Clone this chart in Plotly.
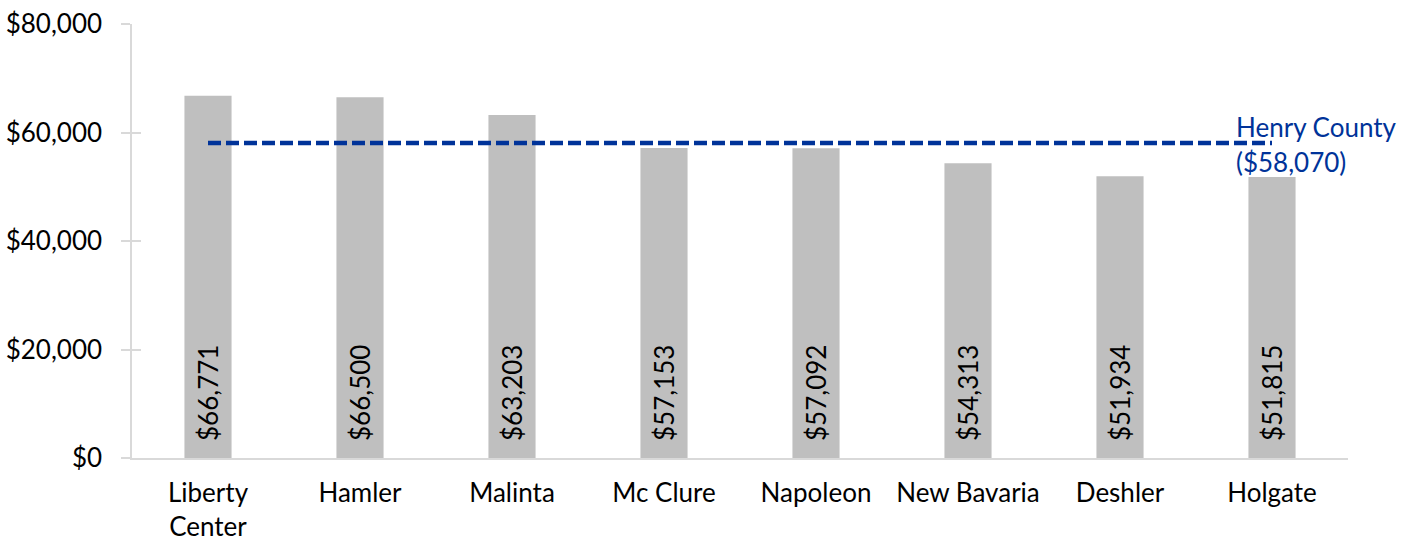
import plotly.graph_objects as go

# Median household income by place, Henry County
places = ["Liberty<br>Center", "Hamler", "Malinta", "Mc Clure", "Napoleon",
          "New Bavaria", "Deshler", "Holgate"]
income = [66771, 66500, 63203, 57153, 57092, 54313, 51934, 51815]
county_name = "Henry County"
county_income = 58070
y_ticks = [0, 20000, 40000, 60000, 80000]

FONT = "Lato, Calibri, sans-serif"
BAR_COLOR = "#BFBFBF"
LINE_COLOR = "#003399"
AXIS_COLOR = "#D9D9D9"
FS = 26

fig = go.Figure()

fig.add_trace(go.Bar(
    x=places, y=income,
    marker=dict(color=BAR_COLOR, line=dict(width=0)),
    hoverinfo="skip",
))

fig.add_trace(go.Scatter(
    x=places, y=[county_income] * len(places),
    mode="lines",
    line=dict(color=LINE_COLOR, width=4.5, dash="13px,5px"),
    hoverinfo="skip",
))

# value labels written vertically at the foot of each bar
for p, v in zip(places, income):
    fig.add_annotation(
        x=p, y=0, xref="x", yref="y",
        text=f"${v:,}", textangle=-90,
        showarrow=False, yanchor="bottom", xanchor="center",
        yshift=15, font=dict(family=FONT, size=FS, color="#000000"),
    )

# county reference label
fig.add_annotation(
    x=1.0, xref="paper", y=county_income, yref="y",
    text=county_name, showarrow=False,
    xanchor="left", yanchor="middle", xshift=-114, yshift=16,
    font=dict(family=FONT, size=FS, color=LINE_COLOR),
)
fig.add_annotation(
    x=1.0, xref="paper", y=county_income, yref="y",
    text=f"(${county_income:,})", showarrow=False,
    xanchor="left", yanchor="middle", xshift=-114, yshift=-19,
    font=dict(family=FONT, size=FS, color=LINE_COLOR),
)

fig.update_layout(
    width=1418, height=543,
    margin=dict(l=132, r=70, t=24, b=85, autoexpand=False),
    plot_bgcolor="white", paper_bgcolor="white",
    showlegend=False,
    bargap=0.69,
    font=dict(family=FONT, size=FS, color="#000000"),
    xaxis=dict(
        showline=True, linecolor=AXIS_COLOR, linewidth=1.5,
        ticks="", showgrid=False, zeroline=False, automargin=False,
        tickfont=dict(family=FONT, size=FS, color="#000000"),
        ticklabelstandoff=11,
    ),
    yaxis=dict(
        range=[0, 80000], tickvals=y_ticks,
        ticktext=[f"${t:,}" for t in y_ticks],
        showline=True, linecolor=AXIS_COLOR, linewidth=1.5,
        ticks="outside", ticklen=9, tickcolor=AXIS_COLOR, tickwidth=1.5,
        showgrid=False, zeroline=False, automargin=False,
        tickfont=dict(family=FONT, size=FS, color="#000000"),
        ticklabelstandoff=14,
    ),
    yaxis2=dict(
        range=[0, 80000], tickvals=y_ticks, overlaying="y", side="left",
        anchor="x", showline=False, showticklabels=False, automargin=False,
        ticks="inside", ticklen=9, tickcolor=AXIS_COLOR, tickwidth=1.5,
        showgrid=False, zeroline=False,
    ),
)

# invisible trace so the overlay axis is drawn
fig.add_trace(go.Scatter(x=[places[0]], y=[0], yaxis="y2", mode="markers",
                         marker=dict(opacity=0), hoverinfo="skip"))

fig.write_html("out.html")
